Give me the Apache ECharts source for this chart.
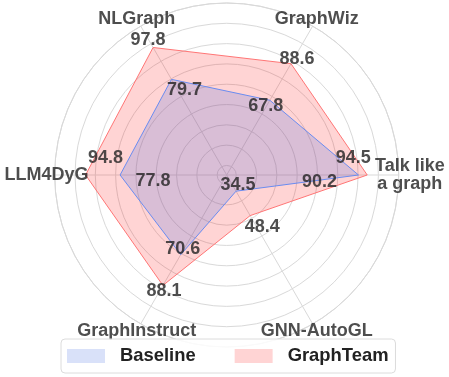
<!DOCTYPE html>
<html><head><meta charset="utf-8">
<script src="https://cdn.jsdelivr.net/npm/echarts@6/dist/echarts.min.js"></script>
<style>html,body{margin:0;padding:0;background:#fff}#c{width:449px;height:377px}</style>
</head><body><div id="c"></div>
<script>
// ---- data ----
const categories = ['Talk like\na graph', 'GraphWiz', 'NLGraph', 'LLM4DyG', 'GraphInstruct', 'GNN-AutoGL'];
const baseline = [90.2, 67.8, 79.7, 77.8, 70.6, 34.5];
const graphTeam = [94.5, 88.6, 97.8, 94.8, 88.1, 48.4];
const seriesNames = ['Baseline', 'GraphTeam'];
const radiusMin = 25.3;
const radiusMax = 110;
const nameRadius = 114;

// ---- label placement (pixel offsets) ----
const baselineLabelOffsets = [[-39, 7], [-4, 6], [13, 11], [33, 6], [2, -6], [2, -6]];
const graphTeamLabelOffsets = [[-14, -17], [6, -5], [-5, -7], [20, -17], [1, 6], [12, 11]];
const nameOffsets = [[3, 0], [0, 0], [0, 0], [0, 0], [0, 0], [0, 0]];

const FONT = "'Liberation Sans', Arial, sans-serif";
const TEXT = '#222222';
const GRID = '#d9d9d9';
const blueFill = 'rgba(65,105,225,0.2)';
const redFill = 'rgba(255,0,0,0.17)';
const blueLine = '#6a8cf0';
const redLine = '#ff7575';

const angleOf = i => i * 360 / categories.length;
const closed = vals => vals.map((v, i) => [v, angleOf(i)]).concat([[vals[0], 360]]);

function labelSeries(vals, offsets) {
  return {
    type: 'scatter', coordinateSystem: 'polar', symbolSize: 0, clip: false, silent: true,
    itemStyle: { color: 'transparent' }, z: 10,
    data: vals.map((v, i) => ({ value: [v, angleOf(i)], label: { offset: offsets[i] } })),
    label: {
      show: true, position: 'inside', formatter: p => p.value[0].toFixed(1),
      fontSize: 18, fontWeight: 'bold', color: TEXT, fontFamily: FONT
    }
  };
}

const chart = echarts.init(document.getElementById('c'), null, { renderer: 'canvas' });
chart.setOption({
  animation: false,
  backgroundColor: '#ffffff',
  polar: { center: [226.7, 175], radius: 172 },
  angleAxis: {
    type: 'value', min: 0, max: 360, interval: 60, startAngle: 0, clockwise: false,
    axisLine: { show: true, lineStyle: { color: GRID, width: 1 } },
    axisTick: { show: false }, axisLabel: { show: false },
    splitLine: { show: true, lineStyle: { color: GRID, width: 1 } }
  },
  radiusAxis: {
    type: 'value', min: radiusMin, max: radiusMax, splitNumber: 8,
    axisLine: { show: false }, axisTick: { show: false }, axisLabel: { show: false },
    splitLine: { show: true, lineStyle: { color: GRID, width: 1 } }
  },
  legend: {
    data: [
      { name: seriesNames[0], icon: 'rect', itemStyle: { color: blueFill, borderWidth: 0 } },
      { name: seriesNames[1], icon: 'rect', itemStyle: { color: redFill, borderWidth: 0 } }
    ],
    left: 61, top: 339, itemWidth: 38, itemHeight: 14, itemGap: 39,
    padding: [8, 7, 8, 6], borderColor: '#dcdcdc', borderWidth: 1, borderRadius: 4,
    backgroundColor: 'rgba(255,255,255,0.85)', selectedMode: false, z: 20,
    textStyle: { fontSize: 18.4, fontWeight: 'bold', color: TEXT, fontFamily: FONT, padding: [0, 0, 0, 10] }
  },
  series: [
    {
      type: 'line', name: seriesNames[1], coordinateSystem: 'polar', data: closed(graphTeam),
      symbol: 'none', color: redLine, lineStyle: { color: redLine, width: 1 },
      areaStyle: { color: redFill, opacity: 1 }, silent: true, z: 2
    },
    {
      type: 'line', name: seriesNames[0], coordinateSystem: 'polar', data: closed(baseline),
      symbol: 'none', color: blueLine, lineStyle: { color: blueLine, width: 1 },
      areaStyle: { color: blueFill, opacity: 1 }, silent: true, z: 3
    },
    labelSeries(baseline, baselineLabelOffsets),
    labelSeries(graphTeam, graphTeamLabelOffsets),
    {
      type: 'scatter', coordinateSystem: 'polar', symbolSize: 0, clip: false, silent: true,
      itemStyle: { color: 'transparent' }, z: 10,
      data: categories.map((c, i) => ({ value: [nameRadius, angleOf(i)], label: { offset: nameOffsets[i] } })),
      label: {
        show: true, position: 'inside', formatter: p => categories[p.dataIndex],
        fontSize: 18, fontWeight: 'bold', color: TEXT, fontFamily: FONT, lineHeight: 18, align: 'center'
      }
    }
  ]
});
</script></body></html>
